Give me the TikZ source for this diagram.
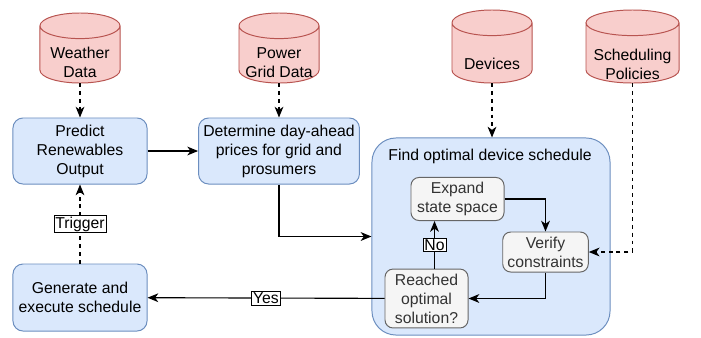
\documentclass[tikz,border=0pt]{standalone}
\usepackage{fontspec}
\setmainfont{Liberation Sans}
\usetikzlibrary{arrows.meta}

\definecolor{storeFill}{HTML}{F8CECC}
\definecolor{storeLine}{HTML}{B85450}
\definecolor{taskFill}{HTML}{DAE8FC}
\definecolor{taskLine}{HTML}{6C8EBF}
\definecolor{stepFill}{HTML}{F5F5F5}
\definecolor{stepLine}{HTML}{666666}
\definecolor{stepText}{HTML}{333333}

\newcommand{\storeShape}[2]{%
    \draw[storeLine, fill=storeFill, line width=0.7pt]
        ([yshift=-0.32cm]#1.north west) -- ([yshift=0.32cm]#1.south west)
        arc[start angle=180, end angle=360, x radius=#2, y radius=0.32cm]
        -- ([yshift=-0.32cm]#1.north east)
        arc[start angle=0, end angle=180, x radius=#2, y radius=0.32cm] -- cycle
        ([yshift=-0.32cm]#1.north west)
        arc[start angle=180, end angle=360, x radius=#2, y radius=0.32cm];
}

\begin{document}
\begin{tikzpicture}[
        x=0.025cm, y=-0.025cm,
        every node/.style={font=\fontsize{11.2}{13.5}\selectfont, align=center},
        storebox/.style={inner sep=0pt, outer sep=0pt, minimum width=2cm, minimum height=1.8cm},
        task/.style={draw=taskLine, fill=taskFill, rounded corners=0.25cm, line width=0.7pt},
        substep/.style={draw=stepLine, fill=stepFill, text=stepText, rounded corners=0.2cm, line width=0.7pt},
        tag/.style={draw, solid, fill=white, inner sep=1pt, line width=0.5pt},
        flow/.style={-{Stealth[length=0.27cm,width=0.22cm,inset=0.08cm]}, line width=0.8pt},
        feed/.style={flow, dash pattern=on 2.8pt off 2.8pt}
    ]
    \useasboundingbox (0,0) rectangle (701,337);

    \node[storebox, minimum height=1.75cm] (weather) at (80,48) {};
    \storeShape{weather}{1cm}
    \node (weatherText) at (80,62.5) {Weather\\Data};
    \node[storebox, minimum height=1.75cm] (gridData) at (279,48) {};
    \storeShape{gridData}{1cm}
    \node (gridDataText) at (279,62.5) {Power\\Grid Data};
    \node[storebox, minimum height=1.825cm] (devices) at (492,46.5) {};
    \storeShape{devices}{1cm}
    \node (devicesText) at (492,64) {Devices};
    \node[storebox, minimum width=2.325cm, minimum height=1.825cm] (policies) at (632.5,46.5) {};
    \storeShape{policies}{1.1625cm}
    \node (policiesText) at (632.5,64) {Scheduling\\Policies};

    \node[task, minimum width=3.35cm, minimum height=1.65cm] (predict) at (80,151) {Predict\\Renewables\\Output};
    \node[task, minimum width=4cm, minimum height=1.65cm] (determine) at (279,151) {Determine day-ahead\\prices for grid and\\prosumers};
    \node[task, minimum width=3.35cm, minimum height=1.675cm] (generate) at (80,297.5) {Generate and\\execute schedule};

    \node[task, rounded corners=0.6cm, minimum width=5.95cm, minimum height=4.925cm] (solver) at (491,236.5) {};
    \node (solverTitle) at (490,156) {Find optimal device schedule};

    \node[substep, minimum width=2.325cm, minimum height=1cm] (expand) at (457.5,199) {Expand\\state space};
    \node[substep, minimum width=2.075cm, minimum height=1cm] (verify) at (545.5,252) {Verify\\constraints};
    \node[substep, minimum width=2.075cm, minimum height=1.325cm] (reached) at (426.5,298.5) {Reached\\optimal\\solution?};

    \draw[feed] (weather) -- (predict);
    \draw[feed] (gridData) -- (determine);
    \draw[feed] (devices) -- (devices |- solver.north);
    \draw[feed] (policies) |- (verify);
    \draw[flow] (predict) -- (determine);
    \draw[flow] (determine) |- (solver);
    \draw[flow] (expand) -| (verify);
    \draw[flow] (verify) |- (reached);
    \draw[flow] ([xshift=0.2cm]reached.north) -- ([xshift=0.2cm]reached.north |- expand.south)
        node[tag, midway] {No};
    \draw[flow] (reached) -- (generate) node[tag, midway] {Yes};
    \draw[feed] (generate) -- (predict) node[tag, midway] {Trigger};
\end{tikzpicture}
\end{document}
